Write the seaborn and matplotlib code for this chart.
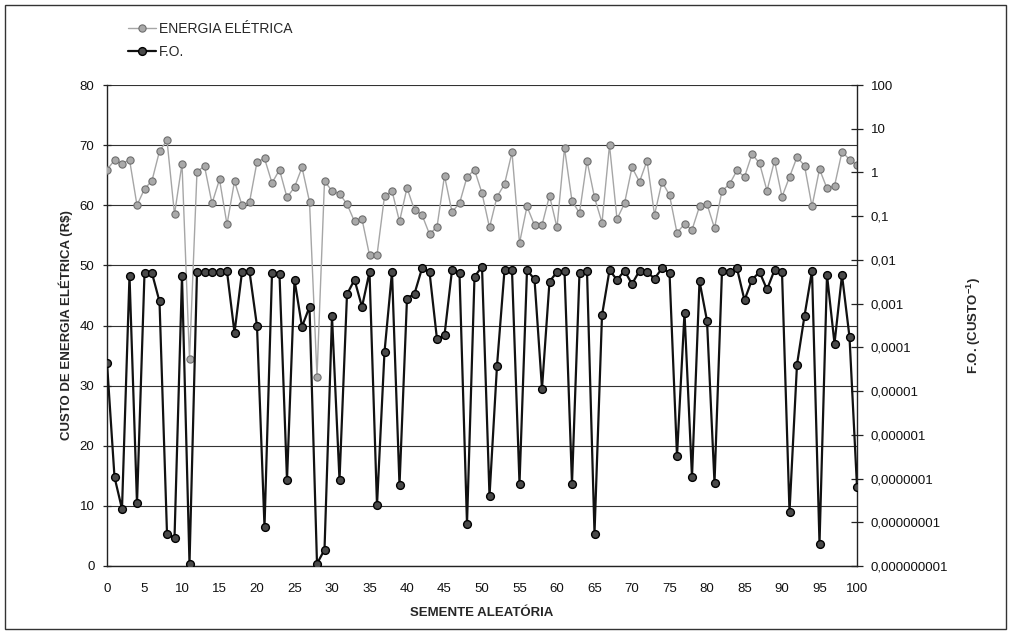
import matplotlib
matplotlib.use("Agg")
import matplotlib.pyplot as plt
import matplotlib.ticker as mticker
from matplotlib.lines import Line2D
from matplotlib.patches import Rectangle
import numpy as np
import pandas as pd
import seaborn as sns

# ---------------- data ----------------
seeds = list(range(0, 101))

energia = [65.9, 67.5, 66.9, 67.6, 60.0, 62.7, 64.1, 69.0, 70.8, 58.5,
           66.9, 34.4, 65.6, 66.5, 60.3, 64.3, 56.8, 64.0, 60.0, 60.5,
           67.2, 67.8, 63.7, 65.9, 61.3, 63.0, 66.3, 60.6, 31.5, 64.0,
           62.4, 61.9, 60.2, 57.3, 57.7, 51.7, 51.7, 61.5, 62.4, 57.3,
           62.9, 59.2, 58.4, 55.2, 56.4, 64.9, 58.9, 60.3, 64.7, 65.9,
           62.0, 56.3, 61.4, 63.5, 68.8, 53.7, 59.8, 56.7, 56.7, 61.6,
           56.3, 69.5, 60.7, 58.7, 67.4, 61.3, 57.1, 70.0, 57.7, 60.3,
           66.3, 63.9, 67.4, 58.4, 63.9, 61.7, 55.4, 56.9, 55.9, 59.8,
           60.2, 56.2, 62.4, 63.5, 65.8, 64.7, 68.5, 67.0, 62.4, 67.4,
           61.4, 64.7, 68.0, 66.6, 59.8, 66.0, 62.8, 63.2, 68.9, 67.6,
           66.7]

fo = [4.44e-5, 1.08e-7, 2.02e-8, 4.38e-3, 2.69e-8, 4.97e-3, 4.97e-3, 1.12e-3, 5.53e-9, 4.29e-9,
      4.24e-3, 1.13e-9, 5.30e-3, 5.30e-3, 5.30e-3, 5.30e-3, 5.46e-3, 2.16e-4, 5.30e-3, 5.46e-3,
      3.06e-4, 7.83e-9, 4.97e-3, 4.66e-3, 9.25e-8, 3.51e-3, 2.97e-4, 8.44e-4, 1.13e-9, 2.35e-9,
      5.08e-4, 9.25e-8, 1.64e-3, 3.51e-3, 8.44e-4, 5.30e-3, 2.45e-8, 7.85e-5, 5.30e-3, 6.96e-8,
      1.31e-3, 1.69e-3, 6.40e-3, 5.30e-3, 1.53e-4, 1.91e-4, 5.82e-3, 4.89e-3, 9.17e-9, 4.11e-3,
      7.04e-3, 3.94e-8, 3.79e-5, 5.82e-3, 5.82e-3, 7.65e-8, 5.82e-3, 3.62e-3, 1.14e-5, 3.19e-3,
      5.30e-3, 5.64e-3, 7.65e-8, 5.13e-3, 5.64e-3, 5.53e-9, 5.42e-4, 5.82e-3, 3.51e-3, 5.64e-3,
      2.81e-3, 5.64e-3, 5.30e-3, 3.74e-3, 6.40e-3, 5.13e-3, 3.28e-7, 6.15e-4, 1.08e-7, 3.29e-3,
      4.07e-4, 7.90e-8, 5.64e-3, 5.30e-3, 6.40e-3, 1.20e-3, 3.51e-3, 5.30e-3, 2.11e-3, 5.82e-3,
      5.30e-3, 1.73e-8, 4.04e-5, 5.25e-4, 5.64e-3, 3.23e-9, 4.52e-3, 1.22e-4, 4.52e-3, 1.73e-4,
      6.53e-8]

left_ticks = [0, 10, 20, 30, 40, 50, 60, 70, 80]
x_ticks = list(range(0, 101, 5))
right_ticks = [1e-9, 1e-8, 1e-7, 1e-6, 1e-5, 1e-4, 1e-3, 1e-2, 1e-1, 1, 10, 100]
right_labels = ["0,000000001", "0,00000001", "0,0000001", "0,000001", "0,00001",
                "0,0001", "0,001", "0,01", "0,1", "1", "10", "100"]

series_names = ["ENERGIA ELÉTRICA", "F.O."]
x_title = "SEMENTE ALEATÓRIA"
y_title = "CUSTO DE ENERGIA ELÉTRICA (R$)"
y2_title = "F.O. (CUSTO$^{\\mathbf{-1}}$)"

df_e = pd.DataFrame({"seed": seeds, "val": energia})
df_f = pd.DataFrame({"seed": seeds, "val": fo})

# ---------------- style ----------------
sns.set_style("white")
plt.rcParams["font.family"] = ["Liberation Sans", "DejaVu Sans"]
plt.rcParams["mathtext.fontset"] = "custom"
plt.rcParams["mathtext.rm"] = "Liberation Sans"
plt.rcParams["mathtext.bf"] = "Liberation Sans:bold"

W, H = 1011, 632
fig = plt.figure(figsize=(W / 100, H / 100), dpi=100)
fig.patch.set_facecolor("white")

L, R, T, B = 107, 857, 85, 566
ax = fig.add_axes([L / W, 1 - B / H, (R - L) / W, (B - T) / H])
ax2 = ax.twinx()

gray_line = "#a6a6a6"
gray_face = "#a9a9a9"
gray_edge = "#6e6e6e"
dark_face = "#4a4a4a"

sns.lineplot(data=df_e, x="seed", y="val", ax=ax, color=gray_line, linewidth=1.0,
             marker="o", markersize=5.2, markerfacecolor=gray_face,
             markeredgecolor=gray_edge, markeredgewidth=0.8, zorder=3)

sns.lineplot(data=df_f, x="seed", y="val", ax=ax2, color="#111111", linewidth=1.6,
             marker="o", markersize=5.6, markerfacecolor=dark_face,
             markeredgecolor="#000000", markeredgewidth=1.0, zorder=3)

# left axis
ax.set_xlim(0, 100)
ax.set_ylim(0, 80)
ax.set_xticks(x_ticks)
ax.set_yticks(left_ticks)
ax.grid(axis="y", color="#333333", linewidth=0.8)
ax.grid(axis="x", visible=False)
ax.set_axisbelow(True)
ax.tick_params(axis="both", direction="inout", length=6, width=0.9, color="#222222",
               labelsize=9.5, labelcolor="#111111", pad=4)
ax.tick_params(axis="x", pad=9)
ax.tick_params(axis="y", pad=6)
for s in ["top", "right"]:
    ax.spines[s].set_visible(False)
for s in ["left", "bottom"]:
    ax.spines[s].set_color("#222222")
    ax.spines[s].set_linewidth(1.0)
ax.set_xlabel(x_title, fontsize=9.5, fontweight="bold", labelpad=9)
ax.set_ylabel(y_title, fontsize=9.5, fontweight="bold", labelpad=5)

# right axis (log)
ax2.set_yscale("log")
ax2.set_ylim(1e-9, 100)
ax2.yaxis.set_major_locator(mticker.FixedLocator(right_ticks))
ax2.yaxis.set_major_formatter(mticker.FixedFormatter(right_labels))
ax2.yaxis.set_minor_locator(mticker.NullLocator())
ax2.tick_params(axis="y", direction="inout", length=8, width=0.9, color="#222222",
                labelsize=9.5, labelcolor="#111111", pad=6)
for s in ["top", "left", "bottom"]:
    ax2.spines[s].set_visible(False)
ax2.spines["right"].set_color("#222222")
ax2.spines["right"].set_linewidth(1.0)
ax2.set_xlabel("")
ax2.set_ylabel(y2_title, fontsize=9.5, fontweight="bold", labelpad=12)
ax.set_xlim(0, 100)

# legend
handles = [
    Line2D([], [], color=gray_line, linewidth=1.0, marker="o", markersize=5.2,
           markerfacecolor=gray_face, markeredgecolor=gray_edge, markeredgewidth=0.8),
    Line2D([], [], color="#111111", linewidth=1.6, marker="o", markersize=5.6,
           markerfacecolor=dark_face, markeredgecolor="#000000", markeredgewidth=1.0),
]
fig.legend(handles, series_names, loc="upper left",
           bbox_to_anchor=(128 / W, 1 - 22 / H), frameon=False, fontsize=10,
           handlelength=2.0, handletextpad=0.25, labelspacing=0.65, borderpad=0,
           borderaxespad=0)

# outer frame
fig.add_artist(Rectangle((5 / W, 3 / H), (W - 10) / W, (H - 8) / H,
                         transform=fig.transFigure, fill=False,
                         edgecolor="#333333", linewidth=1.0))

fig.savefig("out.png", dpi=100, facecolor="white")
